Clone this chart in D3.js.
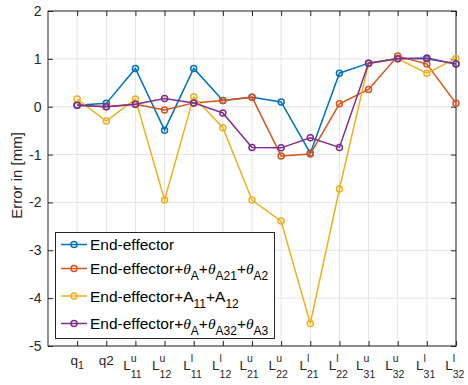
<!DOCTYPE html>
<html>
<head>
<meta charset="utf-8">
<script src="https://cdn.jsdelivr.net/npm/d3@7"></script>
<style>
  html, body { margin: 0; padding: 0; background: #fff; }
  svg { display: block; font-family: "Liberation Sans", Arial, sans-serif; }
</style>
</head>
<body>
<svg id="chart" width="468" height="385"></svg>
<script>
// Parameter labels along the x axis: base letter, superscript, subscript
const categories = [
  { base: "q", sup: "", sub: "1" },
  { base: "q2", sup: "", sub: "" },
  { base: "L", sup: "u", sub: "11" },
  { base: "L", sup: "u", sub: "12" },
  { base: "L", sup: "l", sub: "11" },
  { base: "L", sup: "l", sub: "12" },
  { base: "L", sup: "u", sub: "21" },
  { base: "L", sup: "u", sub: "22" },
  { base: "L", sup: "l", sub: "21" },
  { base: "L", sup: "l", sub: "22" },
  { base: "L", sup: "u", sub: "31" },
  { base: "L", sup: "u", sub: "32" },
  { base: "L", sup: "l", sub: "31" },
  { base: "L", sup: "l", sub: "32" }
];

const endEffector   = [0.03, 0.07, 0.80, -0.49, 0.80, 0.13, 0.20, 0.10, -0.97, 0.70, 0.91, 1.01, 1.00, 0.90];
const withThetaA2   = [0.03, 0.00, 0.05, -0.07, 0.08, 0.13, 0.20, -1.03, -0.99, 0.06, 0.36, 1.06, 0.89, 0.07];
const withA11A12    = [0.16, -0.30, 0.16, -1.95, 0.21, -0.44, -1.95, -2.39, -4.53, -1.72, 0.90, 1.00, 0.70, 1.01];
const withThetaA3   = [0.03, 0.00, 0.05, 0.17, 0.08, -0.13, -0.85, -0.86, -0.65, -0.85, 0.91, 1.00, 1.02, 0.89];

const yTicks = [2, 1, 0, -1, -2, -3, -4, -5];

const series = [
  { values: endEffector, color: "#0072BD",
    label: [["End-effector", ""]] },
  { values: withThetaA2, color: "#D95319",
    label: [["End-effector+", ""], ["θ", "it"], ["A", "sub"], ["+", ""], ["θ", "it"], ["A21", "sub"], ["+", ""], ["θ", "it"], ["A2", "sub"]] },
  { values: withA11A12, color: "#EDB120",
    label: [["End-effector+A", ""], ["11", "sub"], ["+A", ""], ["12", "sub"]] },
  { values: withThetaA3, color: "#7E2F8E",
    label: [["End-effector+", ""], ["θ", "it"], ["A", "sub"], ["+", ""], ["θ", "it"], ["A32", "sub"], ["+", ""], ["θ", "it"], ["A3", "sub"]] }
];

const svg = d3.select("#chart");
const m = { left: 48, right: 456, top: 11, bottom: 346 };

const x = d3.scaleLinear().domain([0, categories.length]).range([m.left, m.right]);
const y = d3.scaleLinear().domain([-5, 2]).range([m.bottom, m.top]);

// Grid lines
const grid = svg.append("g").attr("stroke", "#e5e5e5").attr("stroke-width", 1);
categories.forEach((c, i) => {
  grid.append("line").attr("x1", x(i + 1)).attr("x2", x(i + 1))
    .attr("y1", m.top).attr("y2", m.bottom);
});
yTicks.forEach(t => {
  grid.append("line").attr("x1", m.left).attr("x2", m.right)
    .attr("y1", y(t)).attr("y2", y(t));
});

// Axes with inward ticks
const tickLen = 5;
const axisColor = "#262626";
const ax = svg.append("g");
const xTickVals = categories.map((c, i) => i + 1);

ax.append("g").attr("transform", `translate(0,${m.bottom})`)
  .call(d3.axisBottom(x).tickValues(xTickVals).tickSize(-tickLen).tickFormat(""))
  .call(g => g.select(".domain").remove());
ax.append("g").attr("transform", `translate(0,${m.top})`)
  .call(d3.axisTop(x).tickValues(xTickVals).tickSize(-tickLen).tickFormat(""))
  .call(g => g.select(".domain").remove());
ax.append("g").attr("transform", `translate(${m.left},0)`)
  .call(d3.axisLeft(y).tickValues(yTicks).tickSize(-tickLen).tickPadding(6.5).tickFormat(d3.format("d")))
  .call(g => g.select(".domain").remove())
  .call(g => g.selectAll("text").attr("font-size", 14).attr("fill", axisColor)
    .attr("font-family", "Liberation Sans, Arial, sans-serif").text(d => d < 0 ? "-" + Math.abs(d) : d));
ax.append("g").attr("transform", `translate(${m.right},0)`)
  .call(d3.axisRight(y).tickValues(yTicks).tickSize(-tickLen).tickFormat(""))
  .call(g => g.select(".domain").remove());
ax.selectAll("line").attr("stroke", axisColor);

svg.append("rect").attr("x", m.left).attr("y", m.top)
  .attr("width", m.right - m.left).attr("height", m.bottom - m.top)
  .attr("fill", "none").attr("stroke", axisColor).attr("stroke-width", 1);

// X tick labels: superscript stacked over subscript, centred on summed width
const xl = svg.append("g").attr("fill", axisColor);
categories.forEach((c, i) => {
  const cx = x(i + 1);
  const g = xl.append("g");
  const hasScript = !!c.sup;
  const baseY = hasScript ? 370 : 365;
  const b = g.append("text").attr("y", baseY).attr("font-size", 13.5).text(c.base);
  const bw = b.node().getComputedTextLength();
  let supW = 0, subW = 0;
  let sp = null, sb = null;
  if (c.sup) {
    sp = g.append("text").attr("y", baseY - 8).attr("font-size", 10.5).text(c.sup);
    supW = sp.node().getComputedTextLength();
  }
  if (c.sub) {
    sb = g.append("text").attr("y", hasScript ? baseY + 8 : baseY + 4).attr("font-size", 10.5).text(c.sub);
    subW = sb.node().getComputedTextLength();
  }
  const total = bw + supW + subW;
  const x0 = cx - total / 2;
  b.attr("x", x0);
  if (sp) sp.attr("x", x0 + bw);
  if (sb) sb.attr("x", x0 + bw);
});

// Y axis title
svg.append("text")
  .attr("transform", `translate(22,${(m.top + m.bottom) / 2 - 3}) rotate(-90)`)
  .attr("text-anchor", "middle").attr("font-size", 15).attr("fill", axisColor)
  .text("Error in [mm]");

// Series lines and markers
const line = d3.line().x((d, i) => x(i + 1)).y(d => y(d));
series.forEach(s => {
  const g = svg.append("g");
  g.append("path").datum(s.values).attr("d", line)
    .attr("fill", "none").attr("stroke", s.color).attr("stroke-width", 1.5);
  g.selectAll("circle").data(s.values).join("circle")
    .attr("cx", (d, i) => x(i + 1)).attr("cy", d => y(d)).attr("r", 3)
    .attr("fill", "none").attr("stroke", s.color).attr("stroke-width", 1.5);
});

// Legend
const lg = svg.append("g");
lg.append("rect").attr("x", 55.5).attr("y", 232.5).attr("width", 219).attr("height", 106)
  .attr("fill", "#fff").attr("stroke", axisColor).attr("stroke-width", 1);
const rowY = [244.5, 268.5, 296, 323.5];
series.forEach((s, k) => {
  const yy = rowY[k];
  lg.append("line").attr("x1", 61).attr("x2", 87).attr("y1", yy).attr("y2", yy)
    .attr("stroke", s.color).attr("stroke-width", 1.5);
  lg.append("circle").attr("cx", 74).attr("cy", yy).attr("r", 3)
    .attr("fill", "none").attr("stroke", s.color).attr("stroke-width", 1.5);
  const t = lg.append("text").attr("x", 90).attr("y", yy + 5.5)
    .attr("font-size", 15.5).attr("fill", "#000");
  let shift = 0;
  s.label.forEach(([str, kind]) => {
    const sp = t.append("tspan").text(str);
    if (kind === "sub") {
      sp.attr("font-size", 12).attr("dy", 6 - shift); shift = 6;
    } else {
      if (shift) sp.attr("dy", -shift);
      shift = 0;
      if (kind === "it") sp.attr("font-style", "italic").attr("font-family", "Liberation Serif, serif");
    }
  });
});
</script>
</body>
</html>
